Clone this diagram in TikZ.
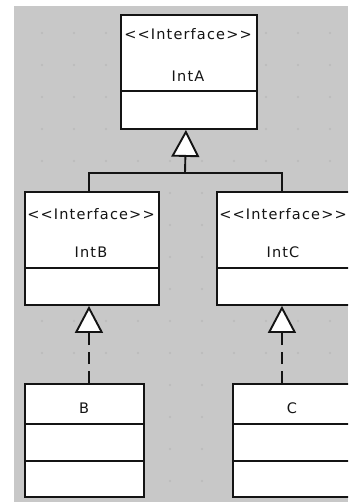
\documentclass[tikz,border=0pt]{standalone}
\usepackage{fontspec}
\setmainfont[LetterSpace=8,Ligatures=NoCommon]{DejaVu Sans}
\usetikzlibrary{arrows.meta}
\definecolor{bggrey}{RGB}{200,200,200}
\definecolor{dotgrey}{RGB}{186,186,186}
\definecolor{ink}{RGB}{20,20,20}
\newcommand{\stereo}{{<}{<}Interface{>}{>}}
\tikzset{
  umlbox/.style={draw=ink, line width=1.9pt, fill=white, inner sep=0pt, anchor=north west},
  umltext/.style={text=ink, font=\fontsize{14.5}{16}\selectfont, inner sep=0pt},
  conn/.style={draw=ink, line width=1.9pt},
  gen/.style={conn, -{Triangle[open, length=27pt, width=28pt, line width=1.9pt, fill=white]}},
  real/.style={gen, dash pattern=on 12pt off 7pt},
  divider/.style={draw=ink, line width=1.9pt}
}
\begin{document}
\begin{tikzpicture}[x=1pt,y=-1pt]
\useasboundingbox (0,0) rectangle (348,502);
\clip (0,0) rectangle (348,502);
\fill[white] (0,0) rectangle (348,502);
\fill[bggrey] (14,6) rectangle (348,502);
\foreach \i in {0,...,9}{
  \foreach \j in {0,...,14}{
    \fill[dotgrey] (42+32*\i,33+32*\j) circle (1.1pt);
  }
}
% IntA
\node[umlbox, minimum width=136pt, minimum height=114pt] (IntA) at (120,14) {};
\draw[divider] (120,91) -- (256,91);
\node[umltext] (IntAs) at (188,34) {\stereo};
\node[umltext] (IntAn) at (188,76) {IntA};
% IntB
\node[umlbox, minimum width=134pt, minimum height=113pt] (IntB) at (24,191) {};
\draw[divider] (24,268) -- (158,268);
\node[umltext] (IntBs) at (91,214) {\stereo};
\node[umltext] (IntBn) at (91,252) {IntB};
% IntC
\node[umlbox, minimum width=134pt, minimum height=113pt] (IntC) at (216,191) {};
\draw[divider] (216,268) -- (350,268);
\node[umltext] (IntCs) at (283,214) {\stereo};
\node[umltext] (IntCn) at (283,252) {IntC};
% B
\node[umlbox, minimum width=119pt, minimum height=113pt] (B) at (24,383) {};
\draw[divider] (24,424) -- (143,424);
\draw[divider] (24,461) -- (143,461);
\node[umltext] (Bn) at (84,408) {B};
% C
\node[umlbox, minimum width=119pt, minimum height=113pt] (C) at (232,383) {};
\draw[divider] (232,424) -- (351,424);
\draw[divider] (232,461) -- (351,461);
\node[umltext] (Cn) at (292,408) {C};
% connectors
\coordinate (j) at (185,173);
\draw[conn] ([xshift=-3pt]IntB.north) |- (j);
\draw[conn] ([xshift=-2pt]IntC.north) |- (j);
\draw[gen] (j) -- ([xshift=-3pt]IntA.south);
\draw[real] ([xshift=4.5pt]B.north) -- ([xshift=-3pt]IntB.south);
\draw[real] ([xshift=-10.5pt]C.north) -- ([xshift=-2pt]IntC.south);
\end{tikzpicture}
\end{document}
